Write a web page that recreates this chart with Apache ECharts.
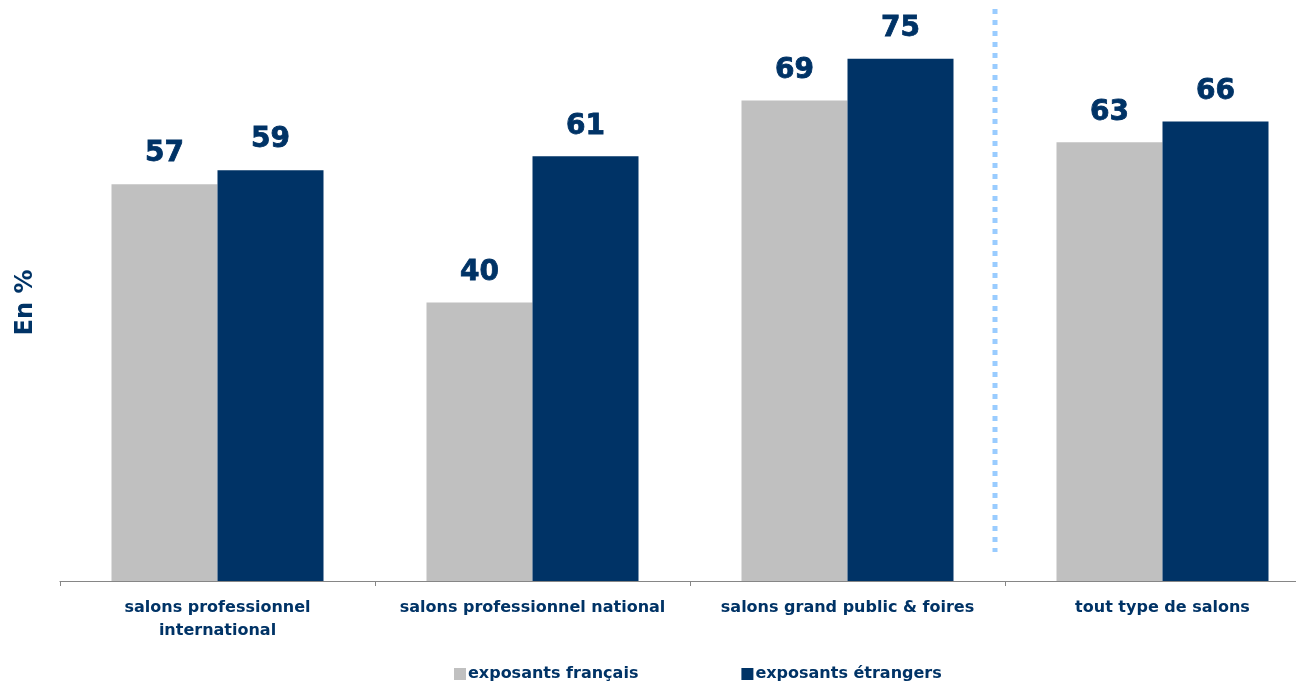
<!DOCTYPE html>
<html>
<head>
<meta charset="utf-8">
<script src="https://cdn.jsdelivr.net/npm/echarts@6/dist/echarts.min.js"></script>
<style>
  html, body { margin: 0; padding: 0; overflow: hidden; background: #fff; }
</style>
</head>
<body>
<div id="main" style="width: 1320px; height: 682px;"></div>
<script>
const categories = [
  'salons professionnel\ninternational',
  'salons professionnel national',
  'salons grand public & foires',
  'tout type de salons'
]
const francais = [57, 40, 69, 63]
const etrangers = [59, 61, 75, 66]

const navy = '#003366'
const grey = '#C0C0C0'

const labelStyle = {
  show: true,
  position: 'top',
  distance: 16,
  color: navy,
  fontFamily: 'DejaVu Sans',
  fontWeight: 'bold',
  fontSize: 28,
  textBorderColor: navy,
  textBorderWidth: 0.8
}

const option = {
  animation: false,
  grid: { left: 60, right: 0, top: 24, bottom: 101 },
  legend: {
    top: 661,
    left: 449,
    itemWidth: 12,
    itemHeight: 12,
    itemGap: 103,
    icon: 'rect',
    textStyle: {
      color: navy,
      fontFamily: 'DejaVu Sans',
      fontWeight: 'bold',
      fontSize: 16,
      padding: [0, 0, 0, -3]
    },
    data: ['exposants français', 'exposants étrangers']
  },
  xAxis: {
    type: 'category',
    data: categories,
    axisLine: { lineStyle: { color: '#868686', width: 1.2 } },
    axisTick: { show: true, length: 5, lineStyle: { color: '#868686' } },
    axisLabel: {
      margin: 15,
      color: navy,
      fontFamily: 'DejaVu Sans',
      fontWeight: 'bold',
      fontSize: 16,
      lineHeight: 23,
      interval: 0
    }
  },
  yAxis: {
    type: 'value',
    min: 0,
    max: 80,
    name: 'En %',
    nameLocation: 'middle',
    nameRotate: 90,
    nameGap: 22,
    nameTextStyle: {
      color: navy,
      fontFamily: 'DejaVu Sans',
      fontWeight: 'bold',
      fontSize: 24
    },
    axisLine: { show: false },
    axisTick: { show: false },
    axisLabel: { show: false },
    splitLine: { show: false }
  },
  graphic: [{
    type: 'line',
    shape: { x1: 995, y1: 9, x2: 995, y2: 552 },
    style: { stroke: '#99CCFF', lineWidth: 5, lineDash: [5, 6] }
  }],
  series: [{
    name: 'exposants français',
    type: 'bar',
    barWidth: 106,
    barGap: '0%',
    itemStyle: { color: grey },
    label: labelStyle,
    data: francais
  }, {
    name: 'exposants étrangers',
    type: 'bar',
    barWidth: 106,
    itemStyle: { color: navy },
    label: labelStyle,
    data: etrangers
  }]
}

const chart = echarts.init(document.getElementById('main'))
chart.setOption(option)
</script>
</body>
</html>
